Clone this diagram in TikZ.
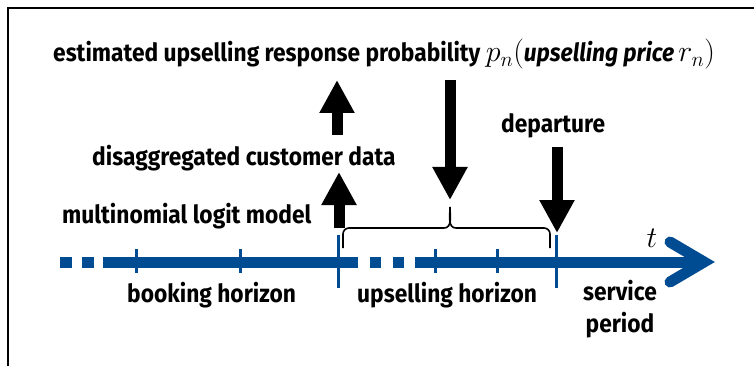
\RequirePackage{fix-cm}
\documentclass[tikz,border=0pt]{standalone}
\usepackage{fontspec}
\setmainfont{Fira Sans}[FakeStretch=0.91]
\usetikzlibrary{arrows.meta, positioning}
\definecolor{axisblue}{RGB}{0,76,147}
\newcommand{\bigmath}[1]{{\fontsize{30}{30}\selectfont$#1$}}

\begin{document}
\begin{tikzpicture}[x=1pt, y=-1pt,
  lbl/.style={font=\fontsize{25}{28}\selectfont\bfseries, inner sep=0pt, anchor=base west},
  blockarr/.style={line width=11pt, -{Triangle[length=33pt, width=33pt]}},
  axisline/.style={line width=11pt, draw=axisblue},
  tickmark/.style={line width=3pt, draw=axisblue},
]
  \useasboundingbox (0,0) rectangle (754,366);
  % frame
  \draw[line width=2pt] (8,366) -- (8,8) -- (754,8);

  % labels
  \node[lbl] (prob) at (53,62) {estimated upselling response probability \bigmath{p_n(}\textit{upselling price}\,\bigmath{r_n)}};
  \node[lbl] (data) at (92,165) {disaggregated customer data};
  \node[lbl] (mnl) at (62,223) {multinomial logit model};
  \node[lbl] (dep) at (501,133) {departure};
  \node[lbl] (book) at (127,302) {booking horizon};
  \node[lbl] (ups) at (357,302) {upselling horizon};
  \node[lbl, anchor=base] (svc) at (620,300) {service};
  \node[lbl, anchor=base] (per) at (620,332) {period};
  \node[font=\fontsize{30}{30}\selectfont, inner sep=0pt, anchor=base] (t) at (652,247) {$t$};

  % time axis
  \draw[axisline] (60,262) -- (72,262);
  \draw[axisline] (82,262) -- (94,262);
  \draw[axisline] (103,262) -- (358,262);
  \draw[axisline] (370,262) -- (381,262);
  \draw[axisline] (393,262) -- (404,262);
  \draw[axisline] (415,262) -- (704,262);
  \draw[axisline, line cap=round, line join=miter] (670,242) -- (704,262) -- (670,282);

  % ticks
  \foreach \x in {136,240,435,497}
    \draw[tickmark] (\x,249) -- (\x,273);
  \coordinate (now) at (338,235);
  \coordinate (end) at (556,235);
  \draw[tickmark] (now) -- (338,288);
  \draw[tickmark] (end) -- (556,288);

  % brace over the upselling horizon
  \coordinate (bl) at (343,248);
  \coordinate (br) at (550,248);
  \coordinate (bt) at (450,207);
  \draw[line width=1.6pt] (bl) -- (343,234) to[out=90,in=180] (349,228)
    -- (444,228) to[out=0,in=-90] (bt) to[out=-90,in=180] (456,228)
    -- (544,228) to[out=0,in=90] (550,234) -- (br);

  % block arrows
  \coordinate (a1) at (339,228);
  \coordinate (a2) at (339,172);
  \coordinate (a3) at (337,135);
  \coordinate (a4) at (337,80);
  \draw[blockarr] (a1) -- (a2);
  \draw[blockarr] (a3) -- (a4);
  \coordinate (d1) at (450,80);
  \coordinate (d2) at (450,200);
  \draw[blockarr] (d1) -- (d2);
  \coordinate (e1) at (557,147);
  \coordinate (e2) at (557,233);
  \draw[blockarr] (e1) -- (e2);
\end{tikzpicture}
\end{document}
